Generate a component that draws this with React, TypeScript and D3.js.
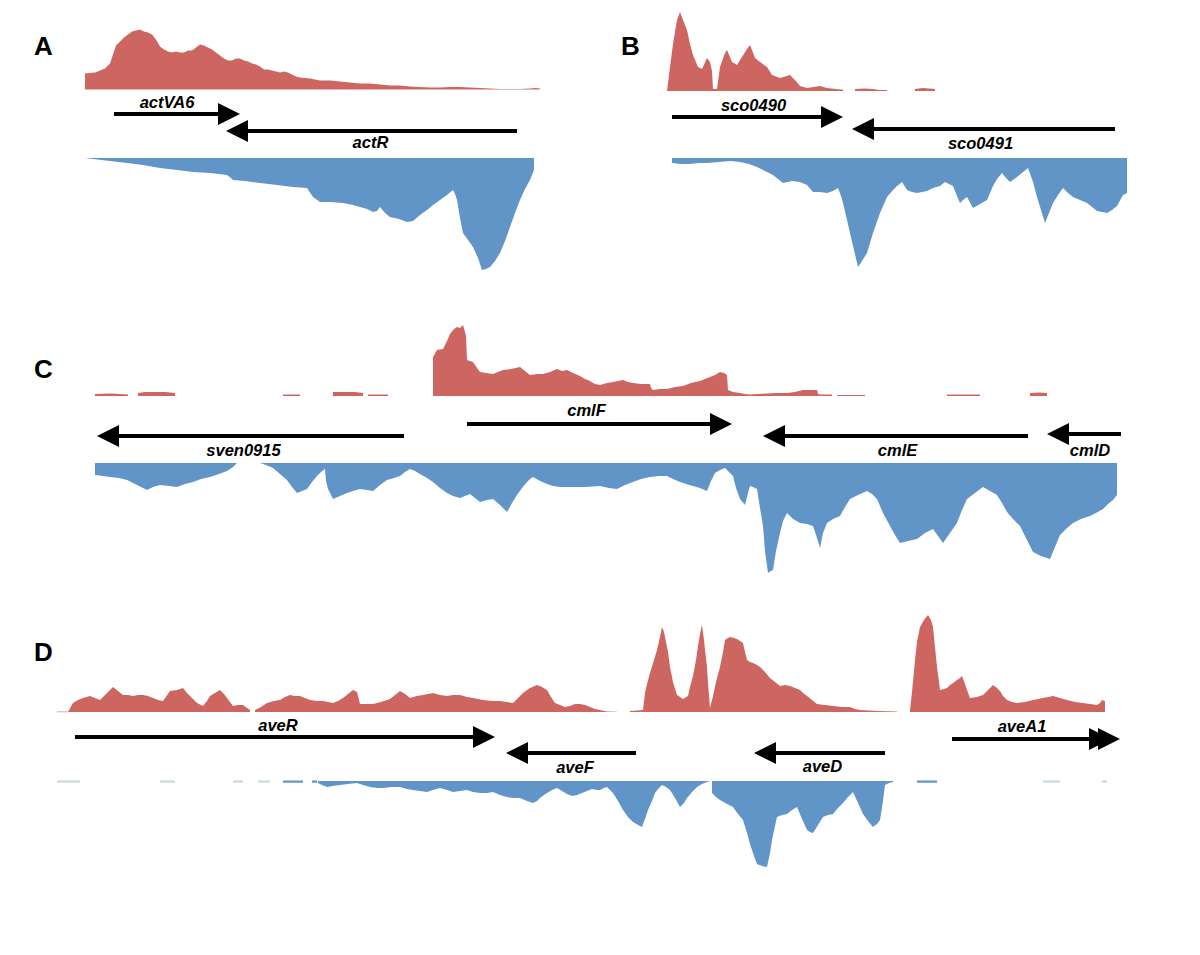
import React from "react";
import * as d3 from "d3";

type Pt = [number, number | null];

// ---------- coverage data (position offset within region, coverage) ----------
const redA: Pt[] = [[0,16],[10,17],[15,19],[20,21],[25,26],[28,35],[31,44],[35,48],[39,52],[43,55],[47,58],[51,59],[55,60],[59,58],[63,57],[67,55],[71,50],[75,43],[79,40],[83,38],[87,37],[91,38],[95,37],[99,37],[103,39],[107,39],[111,42],[115,45],[119,44],[123,42],[127,40],[131,37],[135,34],[139,31],[143,29],[147,29],[151,31],[155,31],[159,29],[163,28],[167,26],[171,25],[175,23],[179,20],[183,20],[187,19],[191,18],[195,17],[199,18],[203,17],[207,15],[211,13],[215,12],[225,11],[235,9],[245,9],[255,8],[265,7],[275,6],[285,6],[295,5],[305,4],[315,4],[325,3],[335,2.5],[345,2],[355,2],[365,2.5],[375,2.5],[385,2],[395,1.5],[405,1],[415,0.5],[425,0.5],[435,0.5],[445,1],[450,1.5],[455,1]];
const blueA: Pt[] = [[0,0],[8,1],[25,3],[42,5],[58,7],[75,10],[92,12],[108,14],[125,15],[142,17],[146,20],[148,22],[160,23],[175,25],[192,27],[208,29],[222,30],[226,36],[228,39],[235,44],[245,44],[258,45],[268,47],[275,49],[282,51],[288,54],[292,53],[295,49],[300,55],[305,59],[314,61],[322,64],[328,63],[335,57],[342,52],[348,47],[355,42],[362,37],[368,32],[370,36],[372,42],[375,60],[378,75],[383,82],[388,89],[393,100],[397,112],[401,111],[405,109],[410,103],[415,95],[420,83],[425,69],[430,55],[435,42],[440,31],[445,22],[449,12]];

const redB: Pt[] = [[0,0],[3,24],[6,47],[10,71],[13,79],[16,71],[20,61],[23,47],[26,36],[31,24],[35,22],[40,33],[43,29],[45,20],[46,2],[50,2],[53,24],[58,38],[60,41],[65,29],[70,26],[75,34],[80,42],[83,46],[88,33],[93,29],[100,24],[105,16],[113,13],[123,16],[128,11],[133,5],[140,3],[153,5],[160,3],[173,1.5],[176,1.5],[177,null],[188,2],[198,2.5],[206,2],[212,1],[220,1],[221,null],[248,2],[256,3],[268,2]];
const blueB: Pt[] = [[5,5],[14,6],[23,6],[32,5],[40,5],[52,4],[63,3],[73,4],[82,6],[90,9],[98,13],[106,17],[111,21],[116,25],[125,23],[133,24],[140,27],[146,34],[153,34],[160,35],[166,33],[171,30],[174,38],[176,45],[180,62],[183,75],[187,92],[191,109],[195,103],[200,95],[206,75],[213,55],[220,39],[226,32],[230,28],[235,24],[240,32],[245,34],[250,35],[260,33],[266,30],[273,28],[278,24],[286,28],[290,38],[293,45],[296,42],[300,39],[306,50],[313,46],[320,42],[323,35],[326,28],[330,21],[335,15],[339,20],[343,24],[350,19],[356,14],[361,10],[366,24],[370,39],[374,52],[378,65],[382,55],[386,45],[391,37],[396,30],[401,35],[406,39],[413,42],[420,45],[425,49],[430,53],[435,54],[440,55],[445,52],[450,48],[456,37],[460,35]];

const redC: Pt[] = [[0,2],[15,2.5],[25,2],[33,1.5],[34,null],[43,3],[50,4],[70,4],[80,3],[81,null],[188,1.5],[205,1.5],[206,null],[238,4],[260,4],[268,3],[269,null],[273,1.5],[293,1.5],[294,null],[338,39],[342,46],[348,47],[352,55],[355,62],[359,67],[362,69],[365,68],[368,71],[370,64],[371,60],[372,36],[375,35],[378,34],[382,28],[385,24],[391,23],[398,22],[403,24],[408,26],[416,27],[425,29],[430,25],[435,21],[442,22],[448,22],[455,24],[462,27],[467,25],[472,26],[478,23],[485,20],[490,17],[495,15],[500,12],[505,11],[512,13],[518,14],[523,15],[528,16],[533,14],[538,13],[546,12],[555,12],[556,8],[558,6],[565,7],[572,7],[580,9],[588,10],[596,13],[605,15],[610,17],[615,19],[620,21],[625,24],[629,23],[632,21],[633,6],[638,4],[645,3],[650,2],[655,1.5],[663,2],[672,2.5],[682,3],[692,3],[700,4],[708,6],[715,6],[722,6],[723,2],[725,1.5],[737,1.5],[738,null],[742,1],[770,1],[771,null],[852,1.5],[885,1.5],[886,null],[935,3],[944,3.5],[952,3]];
const blueC: Pt[] = [[0,12],[8,13],[15,14],[24,15],[32,17],[42,22],[52,27],[58,24],[65,22],[74,23],[82,24],[90,21],[98,19],[106,16],[115,14],[124,11],[132,8],[138,4],[142,0],[143,null],[165,0],[171,2],[178,5],[185,11],[192,17],[197,24],[202,30],[207,28],[212,26],[217,19],[222,13],[226,9],[230,6],[231,18],[233,26],[238,36],[245,33],[252,30],[258,28],[265,26],[272,27],[278,28],[285,22],[292,17],[299,15],[305,13],[310,9],[315,6],[320,8],[325,11],[332,15],[338,19],[345,25],[352,30],[358,33],[365,35],[370,33],[375,31],[380,35],[385,39],[392,37],[398,36],[405,42],[412,49],[417,40],[422,32],[427,25],[432,19],[435,16],[438,14],[445,18],[452,21],[458,23],[465,24],[472,24],[478,24],[490,24],[505,23],[514,25],[522,26],[530,22],[538,19],[546,16],[555,14],[564,13],[572,13],[578,16],[585,19],[591,21],[598,23],[605,25],[612,28],[616,18],[620,10],[625,7],[630,5],[634,9],[638,13],[641,25],[645,36],[650,42],[653,30],[655,23],[658,24],[662,26],[665,45],[668,63],[670,88],[673,110],[676,108],[678,107],[681,88],[685,70],[688,58],[692,50],[698,56],[705,60],[712,61],[718,63],[722,75],[725,85],[728,70],[732,60],[738,56],[745,53],[750,44],[755,36],[763,32],[772,28],[777,31],[782,36],[788,50],[795,63],[800,72],[805,80],[813,78],[822,76],[830,70],[838,66],[843,73],[848,80],[855,70],[862,60],[867,47],[872,36],[880,30],[888,24],[895,28],[902,32],[907,40],[912,49],[918,56],[925,63],[932,77],[938,89],[946,93],[955,96],[960,84],[965,72],[972,65],[978,60],[986,56],[995,53],[1001,50],[1008,46],[1013,41],[1018,37],[1022,32]];

const redD: Pt[] = [[11,0],[16,9],[21,12],[26,14],[33,16],[38,14],[43,12],[50,19],[56,25],[61,21],[66,17],[71,17],[76,16],[81,17],[86,17],[91,16],[96,14],[101,12],[106,11],[113,21],[120,22],[126,24],[130,19],[133,16],[137,12],[140,9],[146,6],[150,11],[153,16],[158,19],[163,22],[167,18],[170,14],[173,10],[176,6],[181,7],[186,7],[190,4],[193,2],[194,null],[198,2],[204,5],[210,9],[217,11],[223,12],[228,15],[233,17],[238,16],[243,16],[248,14],[253,12],[260,11],[266,11],[271,10],[276,9],[281,11],[286,14],[291,18],[296,22],[300,20],[302,12],[303,8],[310,8],[316,8],[324,10],[333,13],[338,17],[343,21],[348,18],[353,14],[360,16],[366,17],[371,18],[376,19],[383,17],[390,16],[396,17],[403,17],[410,15],[416,14],[421,13],[426,12],[435,11],[443,11],[450,10],[456,9],[461,14],[466,19],[473,24],[480,27],[485,25],[490,22],[494,15],[498,9],[503,7],[508,5],[513,6],[518,8],[523,8],[528,7],[533,5],[538,3],[543,2],[550,0.5],[560,0.3],[561,null],[573,1],[580,1.5],[586,2],[588,19],[590,28],[593,39],[597,52],[600,62],[603,75],[605,85],[607,80],[608,75],[611,60],[613,45],[616,30],[620,17],[623,15],[626,13],[631,16],[633,25],[636,36],[639,52],[641,66],[643,78],[645,87],[647,72],[648,62],[650,45],[651,29],[653,4],[656,16],[659,30],[663,45],[666,60],[668,72],[671,74],[673,75],[677,74],[680,73],[683,71],[686,69],[688,60],[690,52],[693,50],[696,49],[700,47],[703,45],[708,40],[713,34],[718,30],[723,26],[728,27],[733,26],[738,24],[743,22],[746,19],[750,16],[755,12],[760,8],[768,7],[776,6],[785,5],[793,5],[798,3],[803,2],[812,1.5],[820,1],[830,0.8],[840,0.5],[841,null],[853,2],[855,20],[858,52],[860,70],[863,85],[867,92],[871,97],[874,92],[876,85],[878,65],[880,45],[882,30],[883,22],[887,23],[890,24],[893,27],[896,29],[900,32],[903,34],[905,36],[908,28],[910,22],[913,14],[920,15],[926,17],[931,22],[936,27],[940,24],[943,21],[946,16],[950,12],[955,10],[960,9],[968,10],[976,12],[986,14],[996,16],[1003,14],[1010,12],[1018,10],[1026,9],[1033,8],[1040,7],[1043,9],[1045,12],[1048,11]];
const blueD: Pt[] = [[261,2],[265,4],[270,6],[276,5],[283,4],[291,3],[300,2],[306,4],[313,6],[320,7],[326,7],[335,6],[343,6],[350,8],[356,9],[363,10],[370,11],[376,9],[383,7],[390,9],[396,11],[403,10],[410,9],[416,11],[423,12],[430,12],[436,11],[443,14],[450,16],[456,17],[463,17],[470,20],[476,22],[480,20],[483,17],[487,14],[490,12],[495,9],[500,7],[505,10],[510,13],[515,15],[520,14],[525,12],[530,10],[535,8],[540,9],[543,9],[547,7],[550,6],[553,9],[556,12],[561,20],[566,29],[571,36],[576,41],[581,44],[585,46],[588,38],[591,29],[595,20],[598,12],[601,8],[605,4],[609,6],[613,9],[618,17],[623,26],[627,22],[630,17],[635,11],[640,6],[645,3],[650,1],[653,0],[654,null],[655,12],[659,16],[663,19],[670,23],[676,26],[681,33],[686,39],[690,52],[693,63],[697,75],[700,83],[705,85],[710,86],[713,72],[715,59],[718,45],[720,36],[725,34],[730,33],[735,29],[740,26],[745,38],[750,49],[753,51],[756,52],[761,44],[766,36],[771,34],[776,33],[781,27],[786,22],[791,16],[796,11],[801,22],[806,33],[811,40],[816,46],[820,43],[823,39],[826,20],[828,4],[832,2],[836,1]];

// faint low-coverage dashes in panel D (start, end)
const faintBlueD: [number, number][] = [[0,23],[103,118],[176,186],[201,213],[986,1003],[1045,1050]];
const thinBlueD: [number, number][] = [[226,246],[255,260],[860,880]];

// ---------- genes ----------
type Gene = { name: string; start: number; end: number; double?: boolean };
const genesA: Gene[] = [{ name: "actVA6", start: 29, end: 155 }, { name: "actR", start: 432, end: 141 }];
const genesB: Gene[] = [{ name: "sco0490", start: 5, end: 176 }, { name: "sco0491", start: 448, end: 185 }];
const genesC: Gene[] = [
  { name: "sven0915", start: 309, end: 2 },
  { name: "cmlF", start: 372, end: 637 },
  { name: "cmlE", start: 933, end: 668 },
  { name: "cmlD", start: 1026, end: 952 },
];
const genesD: Gene[] = [
  { name: "aveR", start: 18, end: 438 },
  { name: "aveF", start: 579, end: 449 },
  { name: "aveD", start: 828, end: 697 },
  { name: "aveA1", start: 895, end: 1063, double: true },
];

// ---------- layout ----------
type GeneLayout = { y: number; labelY: number; dx: number };
type PanelLayout = {
  letter: string; lx: number; ly: number;
  x0: number; x1: number; span: number;
  redBase: number; blueBase: number;
  red: Pt[]; blue: Pt[]; genes: Gene[]; geneLayout: GeneLayout[];
};

const panels: PanelLayout[] = [
  { letter: "A", lx: 34, ly: 55, x0: 85, x1: 540, span: 455, redBase: 89.5, blueBase: 158, red: redA, blue: blueA, genes: genesA,
    geneLayout: [{ y: 114, labelY: 108, dx: -10 }, { y: 131, labelY: 148, dx: -1 }] },
  { letter: "B", lx: 621, ly: 55, x0: 667, x1: 1127, span: 460, redBase: 91, blueBase: 158, red: redB, blue: blueB, genes: genesB,
    geneLayout: [{ y: 117, labelY: 111, dx: -4 }, { y: 129, labelY: 149, dx: -3 }] },
  { letter: "C", lx: 34, ly: 378, x0: 95, x1: 1117, span: 1022, redBase: 396, blueBase: 463, red: redC, blue: blueC, genes: genesC,
    geneLayout: [{ y: 436, labelY: 456, dx: -7 }, { y: 424, labelY: 416, dx: -13 }, { y: 436, labelY: 456, dx: 2 }, { y: 434, labelY: 456, dx: 6 }] },
  { letter: "D", lx: 34, ly: 661, x0: 57, x1: 1122, span: 1065, redBase: 712, blueBase: 781, red: redD, blue: blueD, genes: genesD,
    geneLayout: [{ y: 737, labelY: 731, dx: -7 }, { y: 753, labelY: 773, dx: 4 }, { y: 753, labelY: 772, dx: 3 }, { y: 739, labelY: 732, dx: -14 }] },
];

const RED = "#cd6560";
const BLUE = "#6295c7";
const FAINT = "#c3d6dc";
const HEAD_LEN = 22;
const HEAD_HALF = 11;
const LINE_W = 4;
const yScale = d3.scaleLinear().domain([0, 100]).range([0, 100]);

function Panel({ p }: { p: PanelLayout }) {
  const xs = d3.scaleLinear().domain([0, p.span]).range([p.x0, p.x1]);
  const redArea = d3.area<Pt>()
    .defined((d) => d[1] != null)
    .x((d) => xs(d[0]))
    .y0(p.redBase)
    .y1((d) => p.redBase - yScale(d[1] as number));
  const blueArea = d3.area<Pt>()
    .defined((d) => d[1] != null)
    .x((d) => xs(d[0]))
    .y0(p.blueBase)
    .y1((d) => p.blueBase + yScale(d[1] as number));

  return (
    <g>
      <text x={p.lx} y={p.ly} fontFamily="Liberation Sans, Arial, sans-serif" fontWeight="bold" fontSize={26} fill="#000">
        {p.letter}
      </text>
      <path d={redArea(p.red) || ""} fill={RED} />
      <path d={blueArea(p.blue) || ""} fill={BLUE} />
      {p.letter === "D" && (
        <g>
          {faintBlueD.map((s, i) => (
            <rect key={"f" + i} x={xs(s[0])} y={p.blueBase - 0.5} width={xs(s[1]) - xs(s[0])} height={2} fill={FAINT} />
          ))}
          {thinBlueD.map((s, i) => (
            <rect key={"t" + i} x={xs(s[0])} y={p.blueBase - 0.5} width={xs(s[1]) - xs(s[0])} height={2.2} fill={BLUE} />
          ))}
          <rect x={xs(0)} y={p.redBase - 0.8} width={xs(11) - xs(0)} height={1.2} fill="#e4b7b5" />
        </g>
      )}
      {p.genes.map((g, i) => {
        const gl = p.geneLayout[i];
        const tail = xs(g.start);
        const tip = xs(g.end);
        const dir = tip > tail ? 1 : -1;
        const base = tip - dir * HEAD_LEN;
        const tri = (t: number) => {
          const b = t - dir * HEAD_LEN;
          return `M${t},${gl.y} L${b},${gl.y - HEAD_HALF} L${b},${gl.y + HEAD_HALF} Z`;
        };
        const mid = (tail + tip) / 2;
        return (
          <g key={g.name}>
            <line x1={tail} x2={base + dir * 2} y1={gl.y} y2={gl.y} stroke="#000" strokeWidth={LINE_W} />
            <path d={tri(tip)} fill="#000" />
            {g.double && <path d={tri(tip - dir * 9)} fill="#000" />}
            <text x={mid + gl.dx} y={gl.labelY} textAnchor="middle" fontFamily="Liberation Sans, Arial, sans-serif"
              fontWeight="bold" fontStyle="italic" fontSize={16.5} fill="#000">
              {g.name}
            </text>
          </g>
        );
      })}
    </g>
  );
}

export default function App() {
  return (
    <svg width={1200} height={955} style={{ position: "absolute", left: 0, top: 0, background: "#fff" }}>
      <rect x={0} y={0} width={1200} height={955} fill="#fff" />
      {panels.map((p) => (
        <Panel key={p.letter} p={p} />
      ))}
    </svg>
  );
}
